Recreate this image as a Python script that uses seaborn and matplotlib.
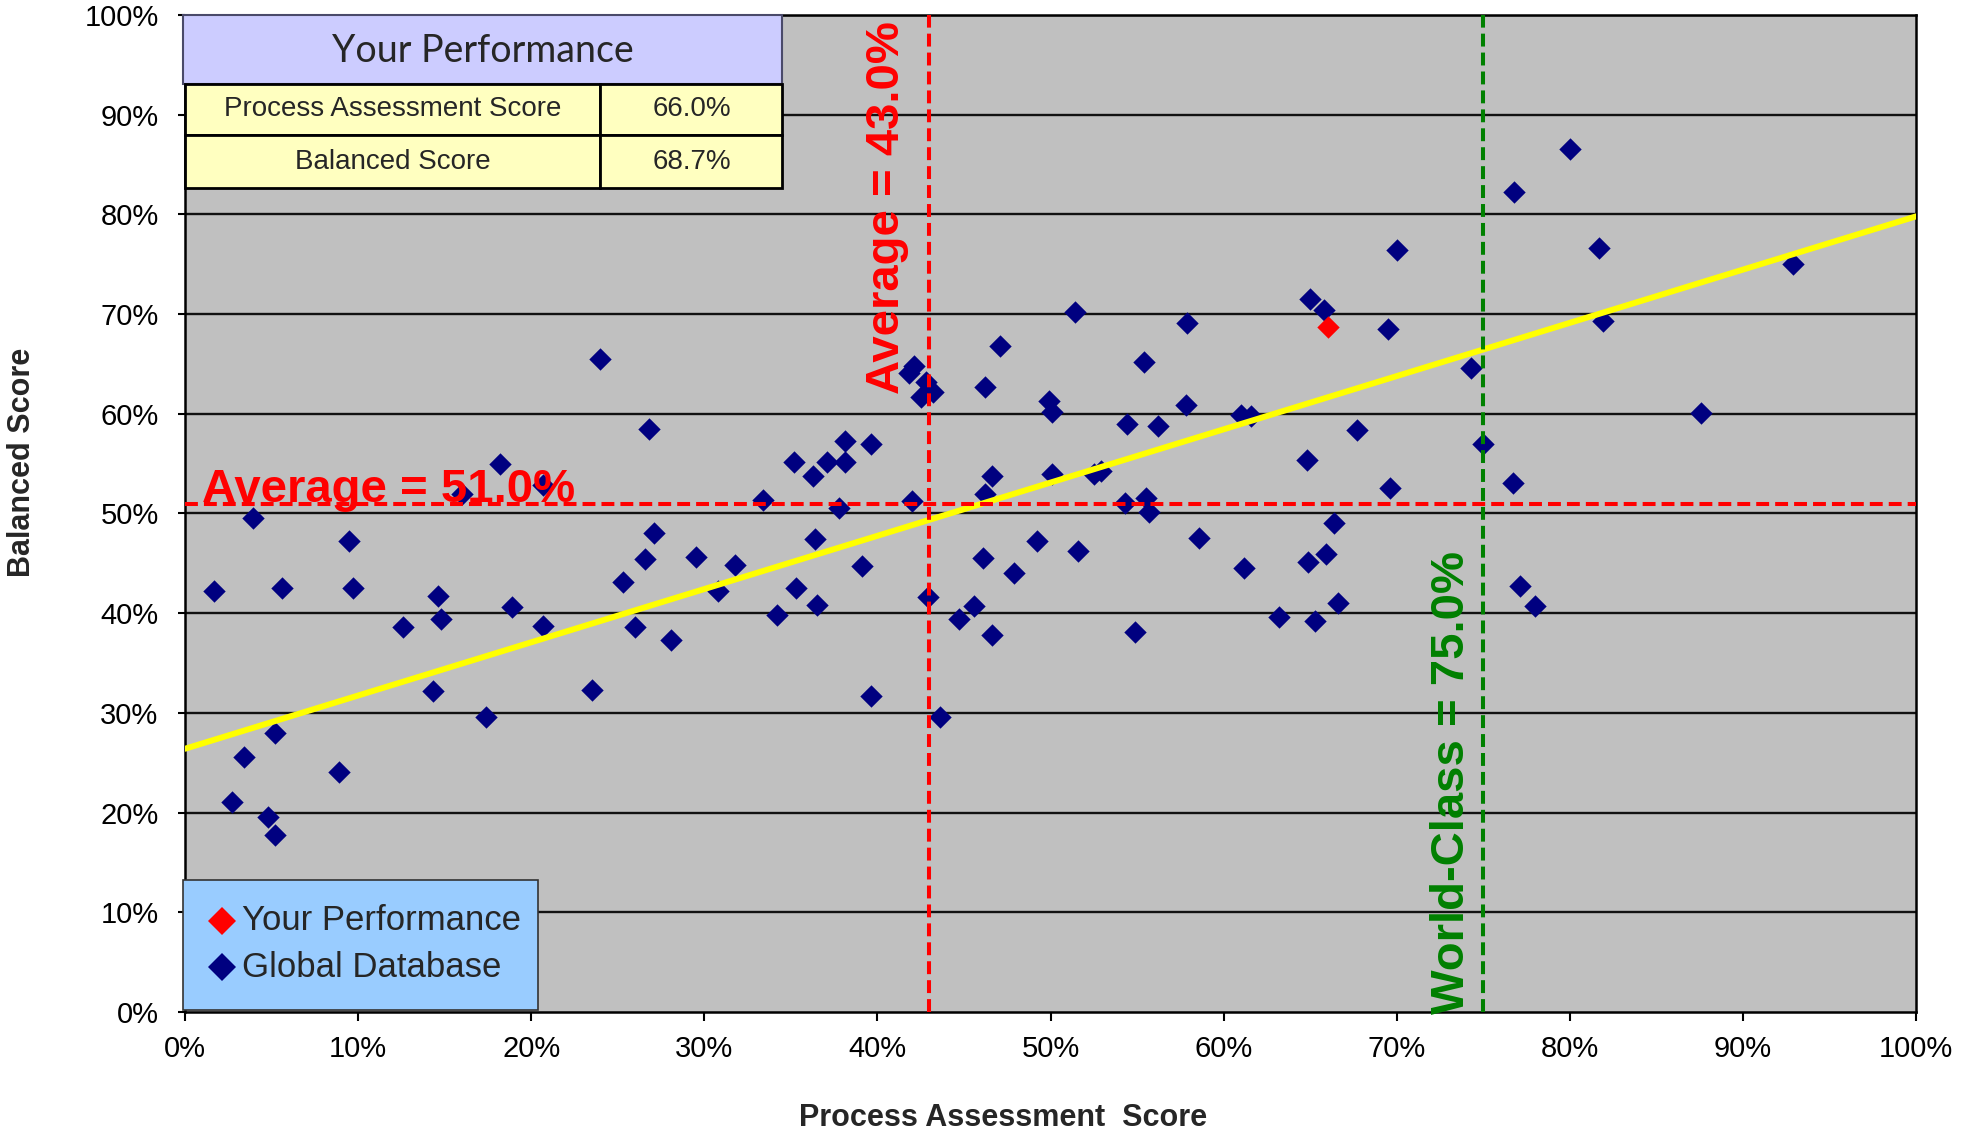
import matplotlib
matplotlib.use("Agg")
import matplotlib.pyplot as plt
from matplotlib.patches import Rectangle
from matplotlib.lines import Line2D
import seaborn as sns
import pandas as pd

# ---- data (percent) ----
global_x = [1.7, 2.7, 3.4, 3.9, 4.8, 5.2, 5.2, 5.6, 8.9, 9.5, 9.7, 12.6, 14.3, 14.6,
            14.8, 16.0, 17.4, 18.2, 18.9, 20.7, 20.7, 23.5, 24.0, 25.3, 26.0, 26.6,
            26.8, 27.1, 28.1, 29.5, 30.8, 31.8, 33.4, 34.2, 35.2, 35.3, 36.3, 36.4,
            36.5, 37.1, 37.8, 38.1, 38.1, 39.1, 39.6, 39.6, 41.8, 42.1, 42.0, 42.5,
            42.8, 43.2, 42.9, 43.6, 44.7, 45.6, 46.1, 46.2, 46.2, 46.6, 46.6, 47.1,
            47.9, 49.2, 49.9, 50.1, 50.1, 51.4, 51.6, 52.5, 52.9, 54.3, 54.4, 54.9,
            55.4, 55.5, 55.7, 56.2, 57.8, 57.9, 58.6, 61.0, 61.2, 61.6, 63.2, 64.8,
            64.9, 65.0, 65.3, 65.8, 65.9, 66.4, 66.6, 67.7, 69.5, 69.6, 70.0, 74.3,
            75.0, 76.7, 76.8, 77.1, 78.0, 80.0, 81.7, 81.9, 87.6, 92.9]
global_y = [42.2, 21.1, 25.6, 49.5, 19.6, 17.8, 28.0, 42.5, 24.1, 47.2, 42.5, 38.6, 32.2, 41.7,
            39.4, 52.0, 29.6, 55.0, 40.6, 52.9, 38.7, 32.3, 65.5, 43.1, 38.6, 45.4,
            58.5, 48.0, 37.3, 45.6, 42.2, 44.8, 51.4, 39.8, 55.2, 42.5, 53.8, 47.4,
            40.8, 55.2, 50.5, 57.3, 55.2, 44.7, 57.0, 31.7, 64.1, 64.8, 51.3, 61.7,
            63.2, 62.2, 41.6, 29.6, 39.4, 40.7, 45.5, 62.7, 52.0, 53.8, 37.8, 66.8,
            44.0, 47.2, 61.3, 60.2, 54.0, 70.2, 46.2, 54.0, 54.3, 51.1, 59.0, 38.1,
            65.2, 51.6, 50.1, 58.8, 60.9, 69.1, 47.5, 59.9, 44.5, 59.8, 39.6, 55.4,
            45.1, 71.5, 39.2, 70.4, 45.9, 49.0, 41.0, 58.4, 68.5, 52.6, 76.4, 64.6,
            57.0, 53.1, 82.2, 42.7, 40.7, 86.6, 76.6, 69.3, 60.1, 75.0]

your_process = 66.0
your_balanced = 68.7

avg_process = 43.0
avg_balanced = 51.0
world_class = 75.0

trend_x = [0, 100]
trend_y = [26.4, 79.8]

x_ticks = list(range(0, 101, 10))
y_ticks = list(range(0, 101, 10))

global_df = pd.DataFrame({"process": global_x, "balanced": global_y})
your_df = pd.DataFrame({"process": [your_process], "balanced": [your_balanced]})
trend_df = pd.DataFrame({"process": trend_x, "balanced": trend_y})

# ---- style ----
sns.set_style("white")
plt.rcParams["font.family"] = ["Liberation Sans", "DejaVu Sans"]

NAVY = "#000080"
RED = "#FF0000"
GREEN = "#008000"

fig = plt.figure(figsize=(19.64, 11.34), dpi=100)
ax = fig.add_axes([0.0942, 0.1076, 0.8814, 0.8792])
ax.set_facecolor("#C0C0C0")
ax.set_xlim(0, 100)
ax.set_ylim(0, 100)

# horizontal gridlines
for v in y_ticks[1:]:
    ax.axhline(v, color="#111111", lw=1.7, zorder=1)

# scatter points
sns.scatterplot(data=global_df, x="process", y="balanced", ax=ax, marker="D",
                color=NAVY, s=130, linewidth=0, zorder=3, legend=False)
sns.scatterplot(data=your_df, x="process", y="balanced", ax=ax, marker="D",
                color=RED, s=130, linewidth=0, zorder=4, legend=False)

# trend line
sns.lineplot(data=trend_df, x="process", y="balanced", ax=ax, color="#FFFF00",
             lw=4.3, zorder=5)

# reference lines
dash = (0, (3.2, 1.5))
ax.axhline(avg_balanced, color=RED, lw=2.9, ls=dash, zorder=6)
ax.axvline(avg_process, color=RED, lw=2.9, ls=dash, zorder=6)
ax.axvline(world_class, color=GREEN, lw=2.9, ls=dash, zorder=6)

# reference labels
ax.text(1.0, avg_balanced + 0.2, f"Average = {avg_balanced:.1f}%", color=RED,
        fontsize=34, fontweight="bold", ha="left", va="baseline", zorder=7)
ax.text(avg_process - 1.75, 62.0, f"Average = {avg_process:.1f}%", color=RED,
        fontsize=34, fontweight="bold", rotation=90, rotation_mode="anchor",
        ha="left", va="baseline", zorder=7)
ax.text(world_class - 1.1, -0.2, f"World-Class = {world_class:.1f}%", color=GREEN,
        fontsize=34, fontweight="bold", rotation=90, rotation_mode="anchor",
        ha="left", va="baseline", zorder=7)

# axes, ticks
for s in ax.spines.values():
    s.set_color("black")
    s.set_linewidth(1.8)
ax.set_xticks(x_ticks)
ax.set_yticks(y_ticks)
ax.set_xticklabels([f"{v}%" for v in x_ticks])
ax.set_yticklabels([f"{v}%" for v in y_ticks])
ax.tick_params(axis="x", direction="out", length=6.5, width=1.5, pad=10,
               labelsize=21, colors="black")
ax.tick_params(axis="y", direction="out", length=5, width=1.5, pad=14,
               labelsize=21, colors="black")
ax.tick_params(bottom=True, left=True)

ax.set_xlabel("Process Assessment  Score", fontsize=22, fontweight="bold")
ax.xaxis.set_label_coords(0.4726, -0.1063)
ax.xaxis.label.set_va("center")
ax.set_ylabel("Balanced Score", fontsize=22, fontweight="bold")
ax.yaxis.set_label_coords(-0.0939, 0.5517)
ax.yaxis.label.set_va("center")

# summary table (axes fraction coordinates)
T = ax.transAxes
ax.add_patch(Rectangle((-0.0012, 0.931), 0.3462, 0.069, transform=T, clip_on=False,
                       facecolor="#CCCCFF", edgecolor="#4A4A6A", lw=1.5, zorder=10))
ax.text(0.172, 0.964, "Your Performance", transform=T, fontsize=27,
        family=["Lato", "DejaVu Sans"], ha="center", va="center", zorder=11)
rows = [("Process Assessment Score", f"{your_process:.1f}%", 0.880, 0.051),
        ("Balanced Score", f"{your_balanced:.1f}%", 0.826, 0.054)]
for label, value, y0, h in rows:
    ax.add_patch(Rectangle((0.0, y0), 0.240, h, transform=T, clip_on=False,
                           facecolor="#FFFFC0", edgecolor="black", lw=2, zorder=10))
    ax.add_patch(Rectangle((0.240, y0), 0.105, h, transform=T, clip_on=False,
                           facecolor="#FFFFC0", edgecolor="black", lw=2, zorder=10))
    ax.text(0.120, y0 + h / 2, label, transform=T, fontsize=20, ha="center",
            va="center", zorder=11)
    ax.text(0.2926, y0 + h / 2, value, transform=T, fontsize=20, ha="center",
            va="center", zorder=11)

# legend box
ax.add_patch(Rectangle((-0.001, 0.002), 0.205, 0.130, transform=T, clip_on=False,
                       facecolor="#99CCFF", edgecolor="#333333", lw=1.2, zorder=10))
legend_items = [("Your Performance", RED, 0.0917), ("Global Database", NAVY, 0.045)]
for label, col, yy in legend_items:
    ax.add_line(Line2D([0.0214], [yy], transform=T, marker="D", ms=14, color=col,
                       markeredgewidth=0, linestyle="none", clip_on=False, zorder=11))
    ax.text(0.0329, yy, label, transform=T, fontsize=25, ha="left", va="center",
            zorder=11)

fig.savefig("out.png", dpi=100, facecolor="white")
